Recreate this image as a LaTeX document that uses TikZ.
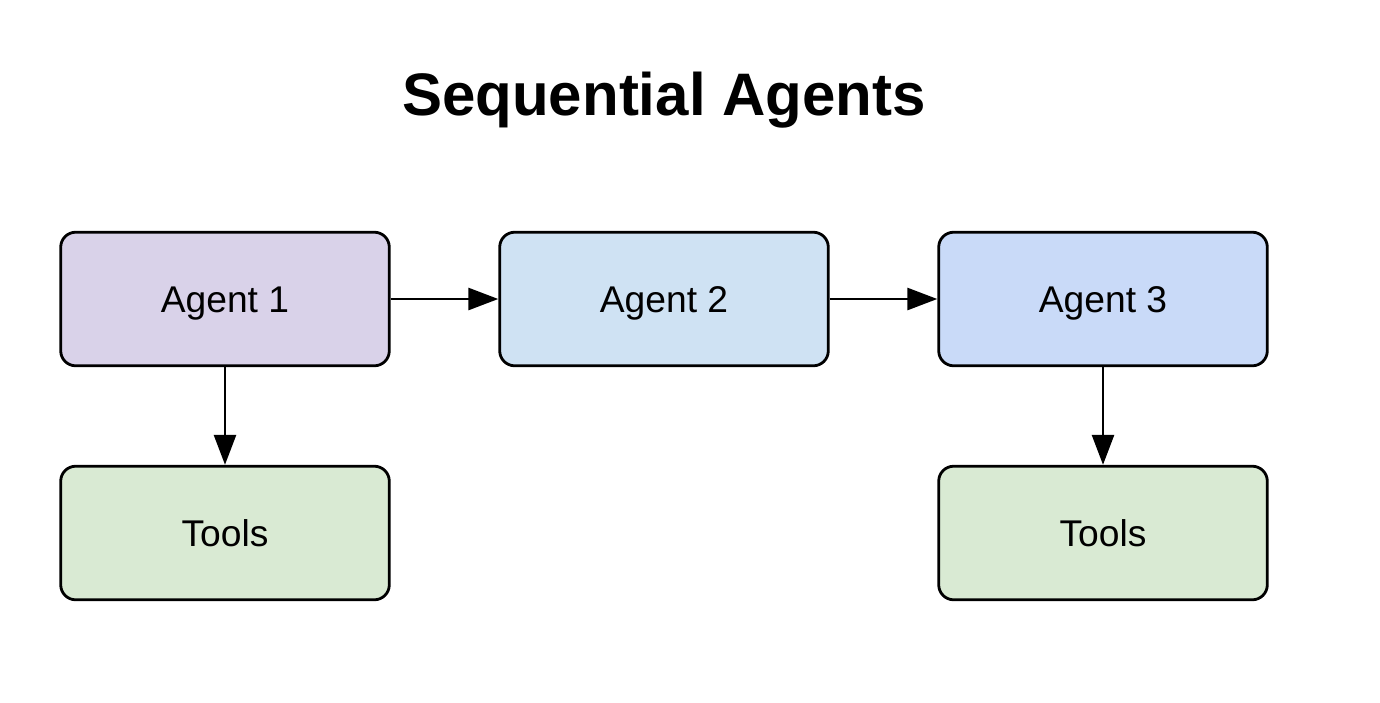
\documentclass[tikz,border=0pt]{standalone}
\usepackage{fontspec}
\setmainfont{Liberation Sans}
\usetikzlibrary{arrows.meta}
\definecolor{agentone}{HTML}{D9D2E9}
\definecolor{agenttwo}{HTML}{CFE2F3}
\definecolor{agentthree}{HTML}{C9DAF8}
\definecolor{toolsgreen}{HTML}{D9EAD3}
\begin{document}
\begin{tikzpicture}[x=0.5pt, y=-0.5pt, >={Triangle[length=15pt,width=11pt]},
	box/.style={draw, line width=1.4pt, rounded corners=7.5pt, minimum width=164.3pt, minimum height=66.8pt, inner sep=0pt, font=\fontsize{18.6}{22}\selectfont, text height=13.3pt, text depth=0pt},
	link/.style={->, line width=1.4pt}]
	\useasboundingbox (0,0) rectangle (1380,702);
	
	% Title
	\node[font=\fontsize{30}{36}\selectfont\bfseries, anchor=base] (title) at (664,115) {Sequential Agents};
	
	% Agents in a row
	\foreach \i/\x/\c in {1/225/agentone, 2/664/agenttwo, 3/1103/agentthree} {
		\node[box, fill=\c] (agent\i) at (\x,299) {Agent \i};
	}
	
	% Tools below the first and the last agent
	\node[box, fill=toolsgreen] (tools1) at (225,533) {Tools};
	\node[box, fill=toolsgreen] (tools3) at (1103,533) {Tools};
	
	% Connections
	\draw[link] (agent1) -- (agent2);
	\draw[link] (agent2) -- (agent3);
	\draw[link] (agent1) -- (tools1);
	\draw[link] (agent3) -- (tools3);
\end{tikzpicture}
\end{document}
